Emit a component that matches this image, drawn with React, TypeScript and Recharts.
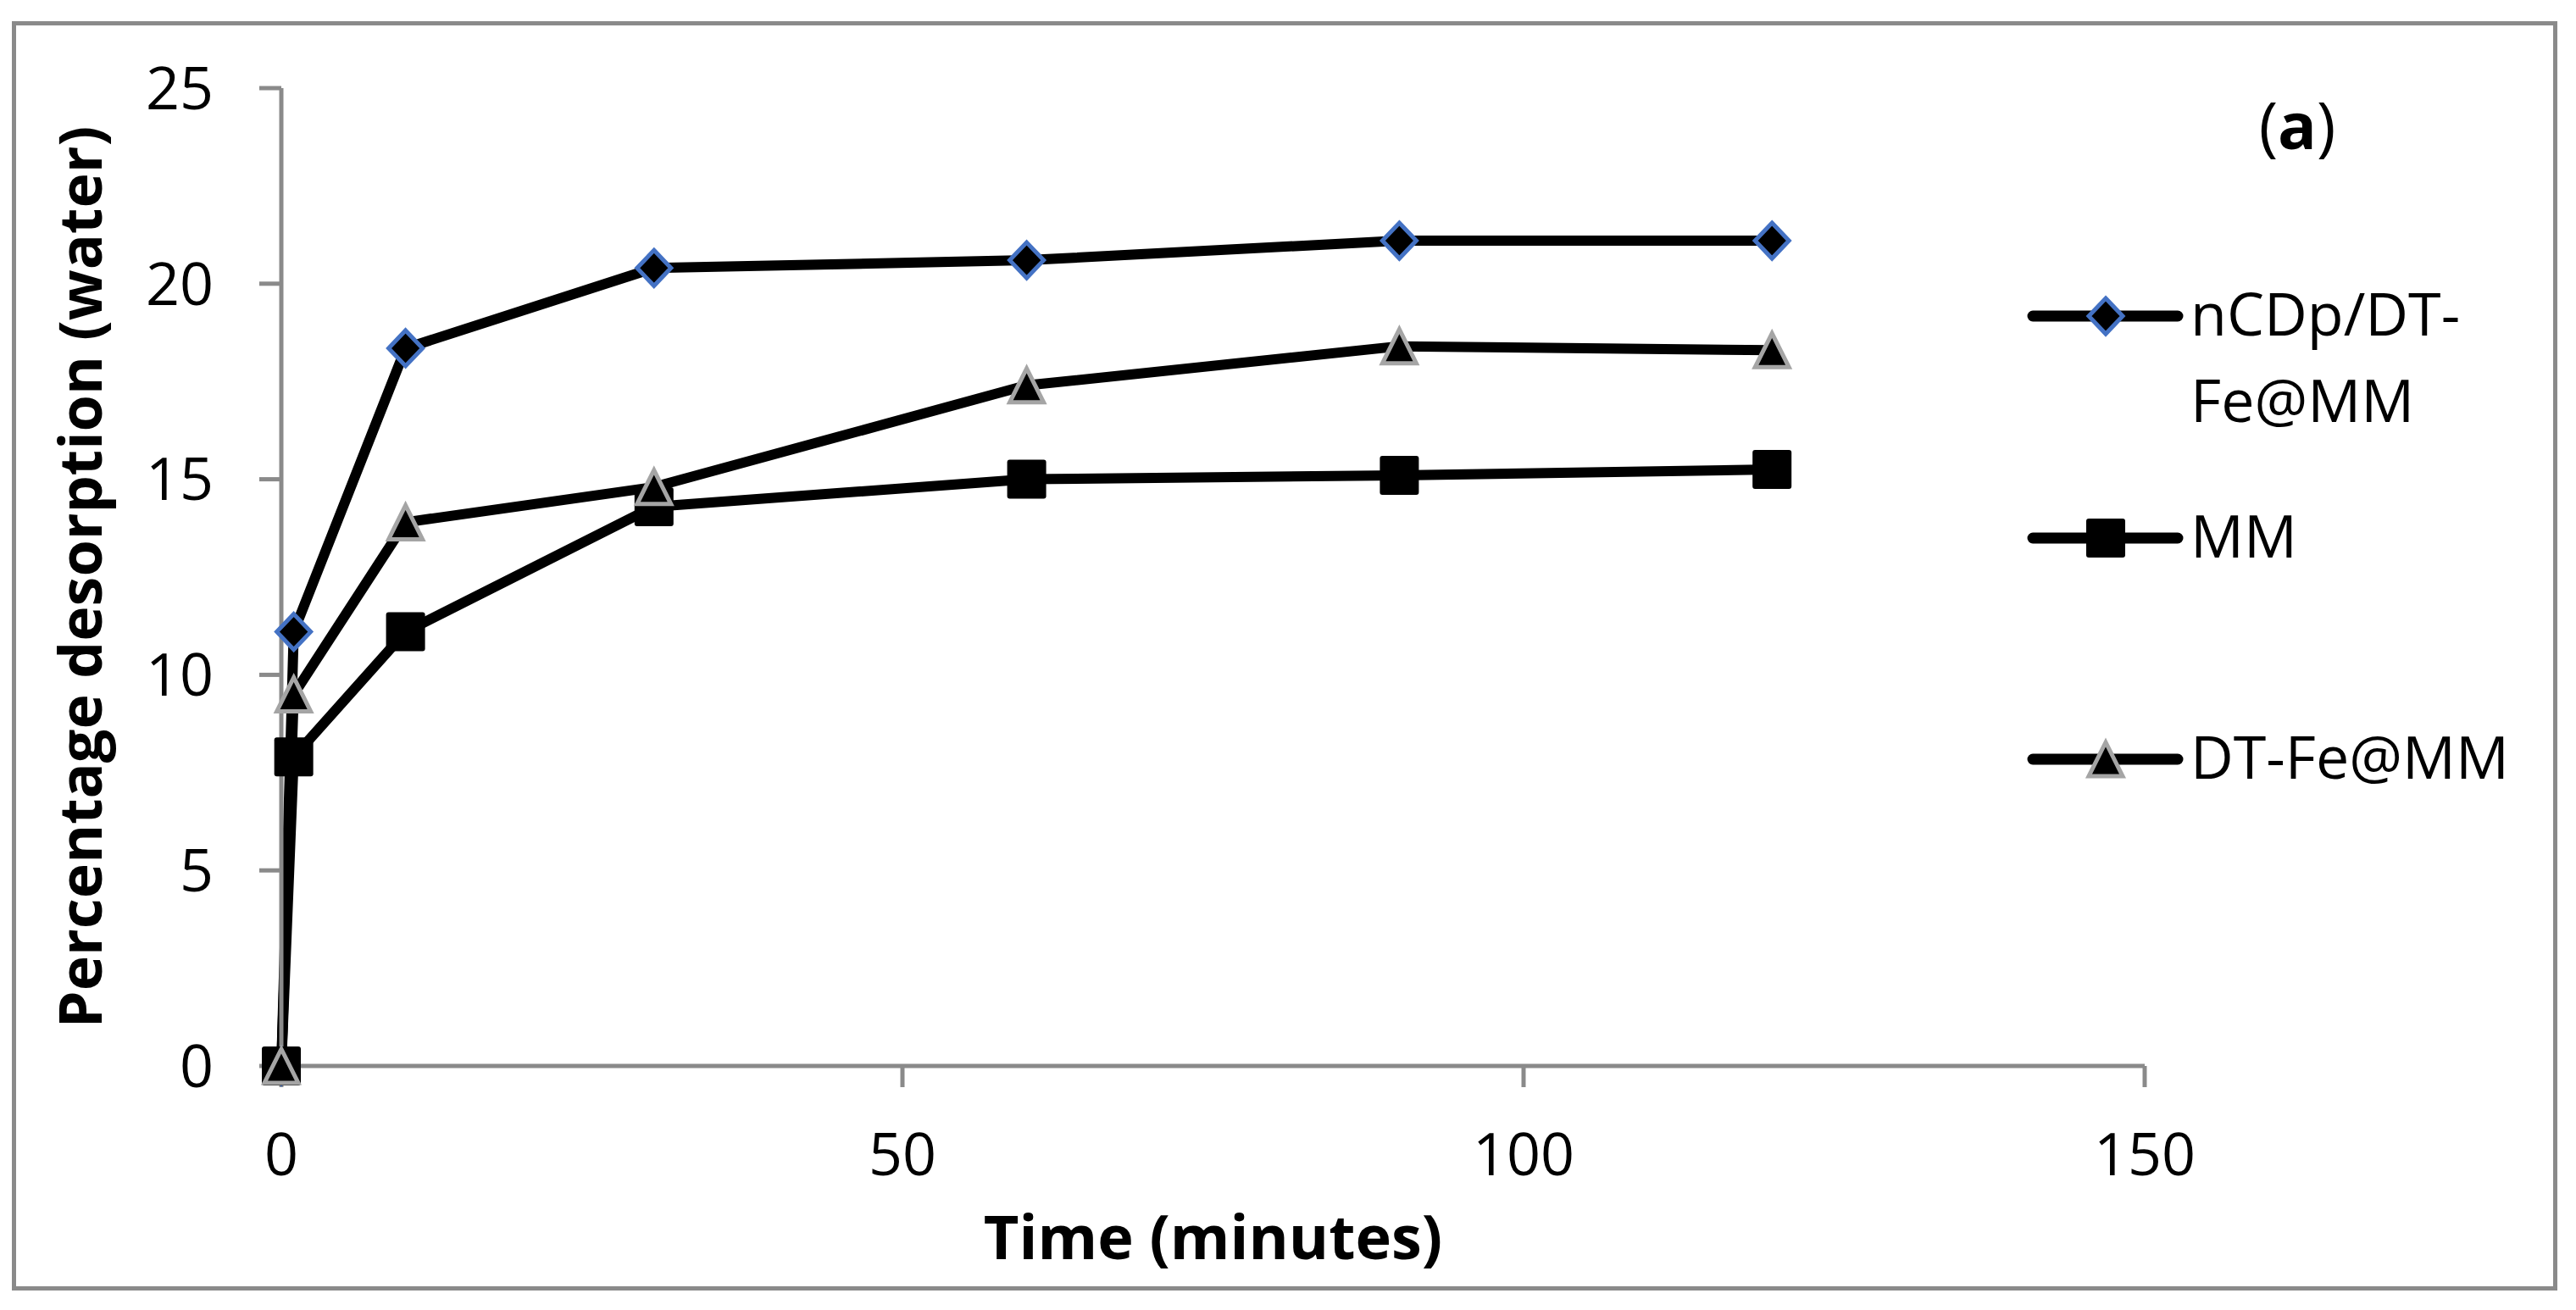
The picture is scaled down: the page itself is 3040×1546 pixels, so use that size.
import React from "react";
import { LineChart, Line, XAxis, YAxis, Legend, Label } from "recharts";

// values
const TIME = [0, 1, 10, 30, 60, 90, 120];
const NCDP_DTFE_MM = [0, 11.1, 18.35, 20.4, 20.6, 21.1, 21.1];
const MM = [0, 7.9, 11.1, 14.3, 15.0, 15.1, 15.25];
const DTFE_MM = [0, 9.5, 13.9, 14.8, 17.4, 18.4, 18.3];

const X_TICKS = [0, 50, 100, 150];
const Y_TICKS = [0, 5, 10, 15, 20, 25];

const SERIES_NAMES = ["nCDp/DT-Fe@MM", "MM", "DT-Fe@MM"];
const LEGEND_TEXT = [["nCDp/DT-", "Fe@MM"], ["MM"], ["DT-Fe@MM"]];

const data = TIME.map((t, i) => ({
  t,
  ncdp: NCDP_DTFE_MM[i],
  mm: MM[i],
  dtfe: DTFE_MM[i],
}));

const FONT = "'Open Sans', sans-serif";
const AXIS_GREY = "#8a8a8a";
const BLUE = "#4472C4";
const TRI_GREY = "#A5A5A5";

function Diamond({ cx, cy }: { cx?: number; cy?: number }) {
  if (cx == null || cy == null) return null;
  return (
    <path
      d={`M${cx},${cy - 21} L${cx + 20},${cy} L${cx},${cy + 21} L${cx - 20},${cy} Z`}
      fill="#000"
      stroke={BLUE}
      strokeWidth={5}
      strokeLinejoin="miter"
    />
  );
}

function Square({ cx, cy }: { cx?: number; cy?: number }) {
  if (cx == null || cy == null) return null;
  return <rect x={cx - 23} y={cy - 23} width={46} height={46} rx={3} fill="#000" />;
}

function Triangle({ cx, cy }: { cx?: number; cy?: number }) {
  if (cx == null || cy == null) return null;
  return (
    <path
      d={`M${cx},${cy - 20} L${cx + 20},${cy + 20} L${cx - 20},${cy + 20} Z`}
      fill="#000"
      stroke={TRI_GREY}
      strokeWidth={5}
    />
  );
}

const MARKERS = [Diamond, Square, Triangle];

function LegendBox() {
  const rowY = [73, 335, 596];
  return (
    <svg width={660} height={700} style={{ overflow: "visible" }}>
      {SERIES_NAMES.map((name, i) => {
        const Marker = MARKERS[i];
        return (
          <g key={name}>
            <line x1={19} x2={190} y1={rowY[i]} y2={rowY[i]} stroke="#000" strokeWidth={13} strokeLinecap="round" />
            <Marker cx={105} cy={rowY[i]} />
            <text x={205} y={rowY[i] + 23} fontFamily={FONT} fontSize={70} fill="#000">
              {LEGEND_TEXT[i].map((ln, j) => (
                <tspan key={ln} x={205} dy={j === 0 ? 0 : 102}>
                  {ln}
                </tspan>
              ))}
            </text>
          </g>
        );
      })}
    </svg>
  );
}

export default function App() {
  return (
    <div
      style={{
        position: "absolute",
        left: 0,
        top: 0,
        width: 3040,
        height: 1546,
        background: "#fff",
        fontFamily: FONT,
      }}
    >
      <svg width={3040} height={1546} style={{ position: "absolute", left: 0, top: 0 }}>
        <rect x={16.5} y={27.5} width={2999} height={1493} fill="none" stroke={AXIS_GREY} strokeWidth={5} />
        <text x={2711} y={176} textAnchor="middle" fontFamily={FONT} fontSize={76} fill="#000">
          (<tspan fontWeight="bold">a</tspan>)
        </text>
      </svg>
      <div style={{ position: "absolute", left: 0, top: 0 }}>
        <LineChart width={3040} height={1546} data={data} margin={{ top: 104, right: 509, bottom: 0, left: 0 }}>
          <XAxis
            dataKey="t"
            type="number"
            domain={[0, 150]}
            ticks={X_TICKS}
            height={288}
            tickSize={25}
            tickMargin={54}
            axisLine={{ stroke: AXIS_GREY, strokeWidth: 5 }}
            tickLine={{ stroke: AXIS_GREY, strokeWidth: 5 }}
            tick={{ fill: "#000", fontSize: 70, fontFamily: FONT }}
            interval={0}
          >
            <Label
              value="Time (minutes)"
              position="insideBottom"
              offset={60}
              style={{ fontSize: 72, fontWeight: "bold", fill: "#000", fontFamily: FONT }}
            />
          </XAxis>
          <YAxis
            type="number"
            domain={[0, 25]}
            ticks={Y_TICKS}
            width={332}
            tickSize={26}
            tickMargin={54}
            axisLine={{ stroke: AXIS_GREY, strokeWidth: 5 }}
            tickLine={{ stroke: AXIS_GREY, strokeWidth: 5 }}
            tick={{ fill: "#000", fontSize: 70, fontFamily: FONT }}
            interval={0}
          >
            <Label
              value="Percentage desorption (water)"
              angle={-90}
              position="insideLeft"
              offset={95}
              style={{ fontSize: 70, fontWeight: "bold", fill: "#000", fontFamily: FONT, textAnchor: "middle" }}
            />
          </YAxis>
          <Legend
            layout="vertical"
            align="center"
            verticalAlign="middle"
            content={() => <LegendBox />}
            wrapperStyle={{ left: 2380, top: 300, width: 660, height: 700 }}
          />
          <Line
            name={SERIES_NAMES[0]}
            dataKey="ncdp"
            stroke="#000"
            strokeWidth={12}
            strokeLinejoin="round"
            dot={(p: any) => <Diamond key={`n${p.index}`} cx={p.cx} cy={p.cy} />}
            activeDot={false}
            isAnimationActive={false}
          />
          <Line
            name={SERIES_NAMES[1]}
            dataKey="mm"
            stroke="#000"
            strokeWidth={12}
            strokeLinejoin="round"
            dot={(p: any) => <Square key={`m${p.index}`} cx={p.cx} cy={p.cy} />}
            activeDot={false}
            isAnimationActive={false}
          />
          <Line
            name={SERIES_NAMES[2]}
            dataKey="dtfe"
            stroke="#000"
            strokeWidth={12}
            strokeLinejoin="round"
            dot={(p: any) => <Triangle key={`d${p.index}`} cx={p.cx} cy={p.cy} />}
            activeDot={false}
            isAnimationActive={false}
          />
        </LineChart>
      </div>
    </div>
  );
}
